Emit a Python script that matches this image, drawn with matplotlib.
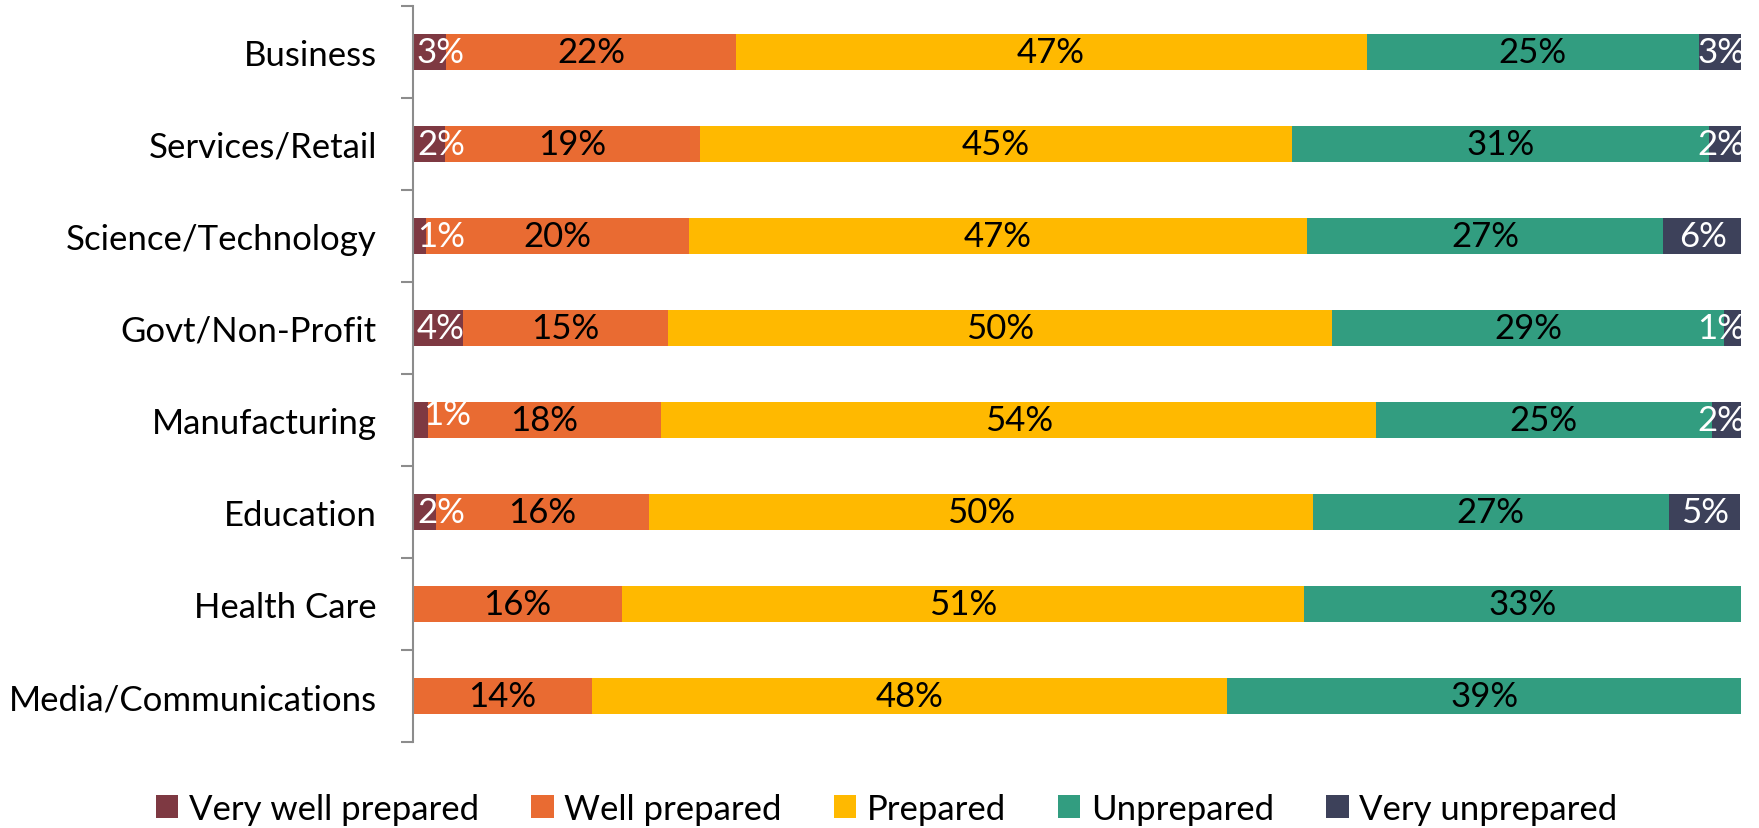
import matplotlib
matplotlib.use("Agg")
import matplotlib.pyplot as plt
import numpy as np
from matplotlib.patches import Patch

plt.rcParams['font.family'] = ['Lato', 'DejaVu Sans']

categories = ["Business", "Services/Retail", "Science/Technology", "Govt/Non-Profit",
              "Manufacturing", "Education", "Health Care", "Media/Communications"]
series_names = ["Very well prepared", "Well prepared", "Prepared", "Unprepared", "Very unprepared"]

very_well = [2.5, 2.4, 0.95, 3.8, 1.1, 1.75, 0.0, 0.0]
well = [21.8, 19.2, 19.8, 15.4, 17.6, 16.0, 15.7, 13.5]
prepared = [47.5, 44.6, 46.6, 50.0, 53.8, 50.0, 51.4, 47.8]
unprepared = [25.0, 31.4, 26.8, 29.5, 25.3, 26.8, 32.9, 38.7]
very_unprepared = [3.2, 2.4, 5.95, 1.3, 2.2, 5.4, 0.0, 0.0]

labels = [
    ["3%", "2%", "1%", "4%", "1%", "2%", "", ""],
    ["22%", "19%", "20%", "15%", "18%", "16%", "16%", "14%"],
    ["47%", "45%", "47%", "50%", "54%", "50%", "51%", "48%"],
    ["25%", "31%", "27%", "29%", "25%", "27%", "33%", "39%"],
    ["3%", "2%", "6%", "1%", "2%", "5%", "", ""],
]

colors = ["#7E3942", "#E96B32", "#FFB900", "#329D80", "#3D415A"]
text_colors = ["white", "black", "black", "black", "white"]

series = [very_well, well, prepared, unprepared, very_unprepared]

fig = plt.figure(figsize=(17.59, 8.29), dpi=100)
ax = fig.add_axes([0.2348, 0.1037, 0.9898 - 0.2348, 0.9916 - 0.1037])

y = np.arange(len(categories))
left = np.zeros(len(categories))
fs = 25
for si, (vals, c) in enumerate(zip(series, colors)):
    vals = np.array(vals)
    ax.barh(y, vals, left=left, height=0.4, color=c, edgecolor='none')
    for i, v in enumerate(vals):
        lab = labels[si][i]
        if v <= 0 or not lab:
            continue
        cx = left[i] + v / 2
        ha = 'center'
        dy = 0.0
        if si == 0 and v < 5:
            cx = 0.3
            ha = 'left'
            if categories[i] == "Manufacturing":
                cx = 0.75
                dy = -0.07
        elif si == 4 and v < 4:
            cx = 100.3
            ha = 'right'
        ax.text(cx, y[i] + dy, lab, ha=ha, va='center', fontsize=fs,
                color=text_colors[si], clip_on=True)
    left += vals

ax.set_xlim(0, 100)
ax.set_ylim(len(categories) - 0.5, -0.5)
ax.set_xticks([])
ax.set_yticks(y)
ax.set_yticklabels(categories, fontsize=fs)
ax.tick_params(axis='y', which='major', length=0, pad=26)
ax.set_yticks(np.arange(-0.5, len(categories), 1.0), minor=True)
ax.tick_params(axis='y', which='minor', length=9, width=1.5, color='#8C8C8C')
for s in ['top', 'right', 'bottom']:
    ax.spines[s].set_visible(False)
ax.spines['left'].set_color('#8C8C8C')
ax.spines['left'].set_linewidth(1.5)

handles = [Patch(facecolor=c, edgecolor='none') for c in colors]
fig.legend(handles, series_names, loc='center', bbox_to_anchor=(0.504, 0.023),
           ncol=5, frameon=False, fontsize=fs, handlelength=0.65, handleheight=0.65,
           handletextpad=0.3, columnspacing=1.5)

fig.savefig("out.png", dpi=100)
